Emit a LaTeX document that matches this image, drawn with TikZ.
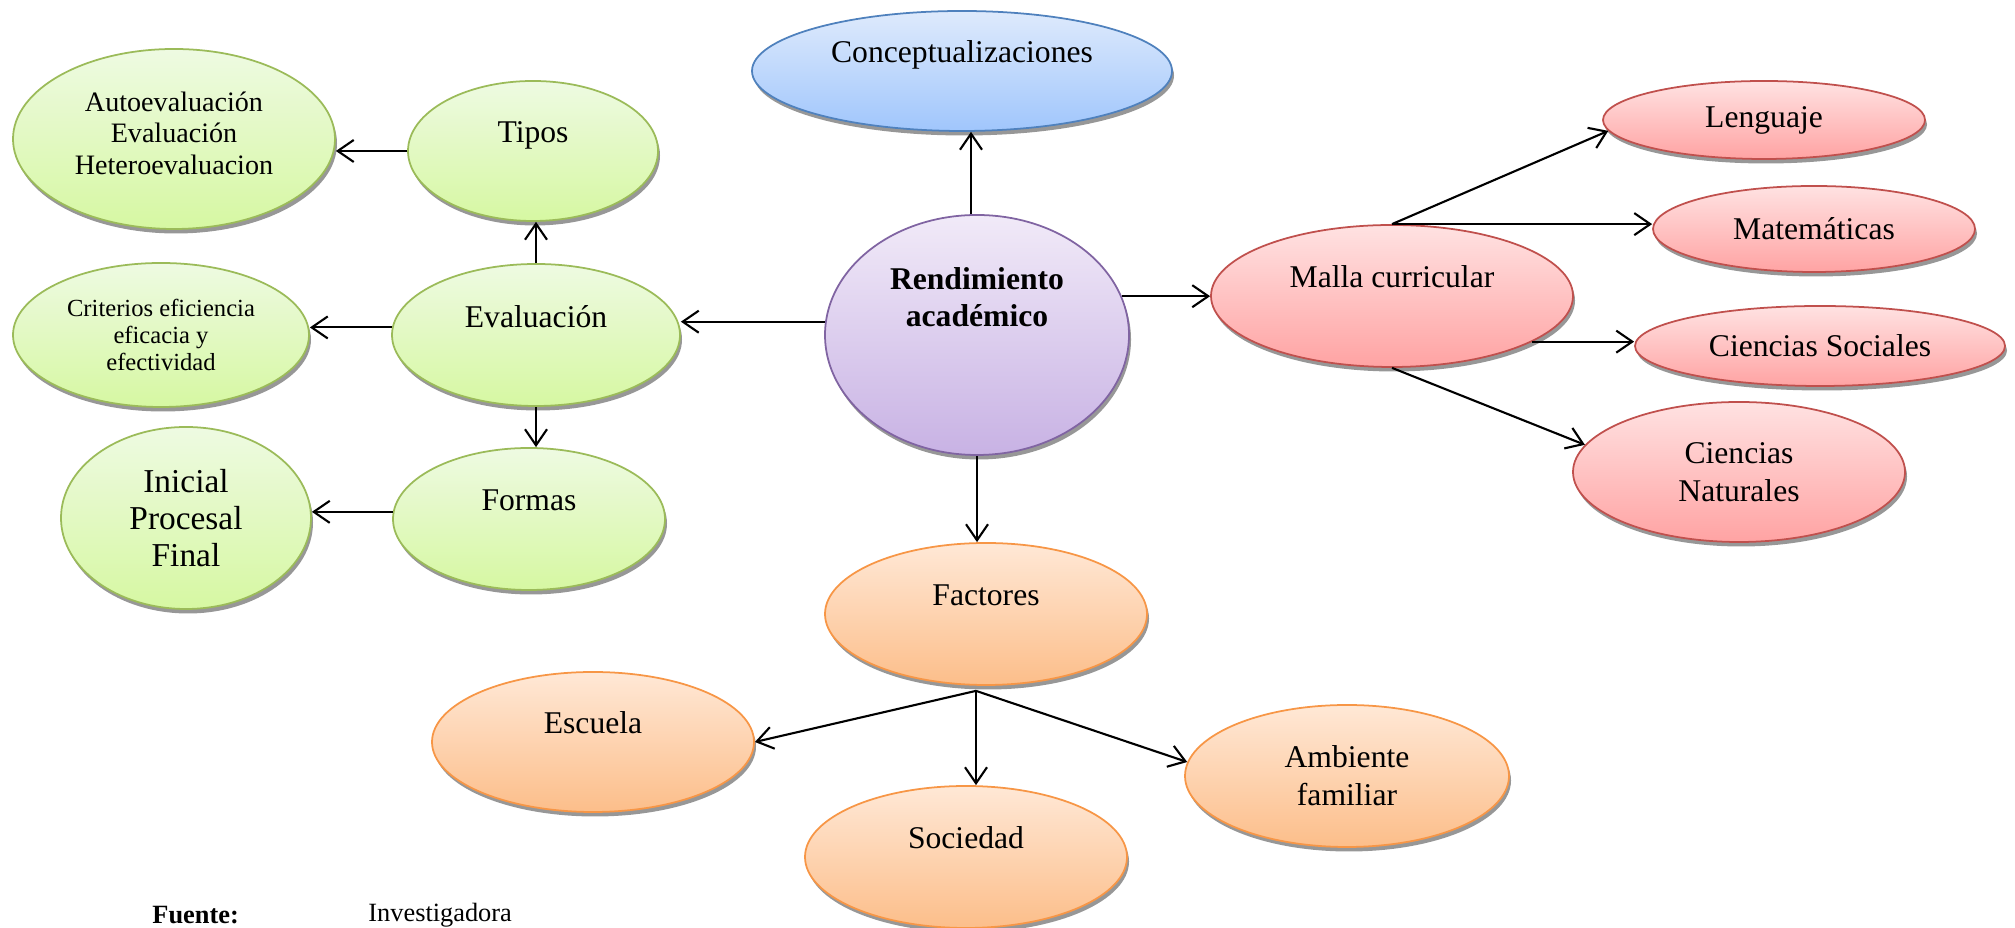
\documentclass[tikz,border=0pt]{standalone}
\usepackage{fontspec}
\setmainfont{Liberation Serif}
\usetikzlibrary{shapes.geometric,shadows,arrows.meta}

\definecolor{greenLine}{RGB}{155,187,89}
\definecolor{greenTop}{RGB}{238,250,226}
\definecolor{greenBot}{RGB}{214,248,162}
\definecolor{blueLine}{RGB}{79,129,189}
\definecolor{blueTop}{RGB}{222,234,252}
\definecolor{blueBot}{RGB}{160,198,252}
\definecolor{purpleLine}{RGB}{128,100,162}
\definecolor{purpleTop}{RGB}{241,234,248}
\definecolor{purpleBot}{RGB}{200,178,228}
\definecolor{redLine}{RGB}{192,80,77}
\definecolor{redTop}{RGB}{255,226,226}
\definecolor{redBot}{RGB}{255,163,163}
\definecolor{orangeLine}{RGB}{247,150,70}
\definecolor{orangeTop}{RGB}{255,232,214}
\definecolor{orangeBot}{RGB}{252,190,138}

\tikzset{
  bubble/.style={ellipse, draw, line width=0.5pt, inner sep=0pt, align=center,
    font=\fontsize{9}{10.8}\selectfont,
    drop shadow={shadow xshift=0.02cm, shadow yshift=-0.045cm, fill=black!45, opacity=0.9}},
  evalbub/.style={bubble, draw=greenLine, top color=greenTop, bottom color=greenBot},
  concbub/.style={bubble, draw=blueLine, top color=blueTop, bottom color=blueBot},
  rendbub/.style={bubble, draw=purpleLine, top color=purpleTop, bottom color=purpleBot,
    font=\fontsize{9}{10.8}\selectfont\bfseries},
  mallabub/.style={bubble, draw=redLine, top color=redTop, bottom color=redBot},
  factbub/.style={bubble, draw=orangeLine, top color=orangeTop, bottom color=orangeBot},
  link/.style={-{Straight Barb[length=1.6mm,width=2.2mm]}, line width=0.6pt}
}

\begin{document}
\begin{tikzpicture}
  \useasboundingbox (0,0) rectangle (20.15,-9.28);

  %% Centre
  \node[rendbub, minimum width=3.04cm, minimum height=2.40cm] (rend) at (9.77,-3.35)
    {Rendimiento\\académico\\ \mbox{}\\ \mbox{}};
  \node[concbub, minimum width=4.20cm, minimum height=1.20cm] (concep) at (9.62,-0.71)
    {Conceptualizaciones\\ \mbox{}};

  %% Evaluation branch
  \node[evalbub, minimum width=2.88cm, minimum height=1.42cm] (eval) at (5.36,-3.35) {Evaluación\\ \mbox{}};
  \node[evalbub, minimum width=2.50cm, minimum height=1.40cm] (tipos) at (5.33,-1.51) {Tipos\\ \mbox{}};
  \node[evalbub, minimum width=2.72cm, minimum height=1.42cm] (formas) at (5.29,-5.19) {Formas\\ \mbox{}};
  \node[evalbub, minimum width=3.22cm, minimum height=1.80cm, font=\fontsize{8}{9}\selectfont] (auto) at (1.74,-1.39)
    {Autoevaluación\\Evaluación\\Heteroevaluacion\\[-5.6pt] \mbox{}};
  \node[evalbub, minimum width=2.96cm, minimum height=1.44cm, font=\fontsize{7}{7.8}\selectfont] (crit) at (1.61,-3.35)
    {Criterios eficiencia\\eficacia y\\efectividad};
  \node[evalbub, minimum width=2.50cm, minimum height=1.82cm, font=\fontsize{9.5}{10.6}\selectfont] (inicial) at (1.86,-5.18)
    {Inicial\\Procesal\\Final};

  %% Curriculum branch
  \node[mallabub, minimum width=3.62cm, minimum height=1.42cm] (malla) at (13.92,-2.96) {Malla curricular\\ \mbox{}};
  \node[mallabub, minimum width=3.22cm, minimum height=0.78cm] (leng) at (17.64,-1.20) {Lenguaje};
  \node[mallabub, minimum width=3.22cm, minimum height=0.86cm] (mat) at (18.14,-2.29) {Matemáticas};
  \node[mallabub, minimum width=3.70cm, minimum height=0.80cm] (csoc) at (18.20,-3.46) {Ciencias Sociales};
  \node[mallabub, minimum width=3.32cm, minimum height=1.40cm] (cnat) at (17.39,-4.72) {Ciencias\\Naturales};

  %% Factors branch
  \node[factbub, minimum width=3.22cm, minimum height=1.42cm] (fact) at (9.86,-6.14) {Factores\\ \mbox{}};
  \node[factbub, minimum width=3.22cm, minimum height=1.40cm] (esc) at (5.93,-7.42) {Escuela\\ \mbox{}};
  \node[factbub, minimum width=3.22cm, minimum height=1.42cm] (soc) at (9.66,-8.57) {Sociedad\\ \mbox{}};
  \node[factbub, minimum width=3.24cm, minimum height=1.42cm] (amb) at (13.47,-7.76) {Ambiente\\familiar};

  %% Fan points
  \coordinate (mfan) at (malla.north);
  \coordinate (ffan) at ([xshift=-0.1cm,yshift=-0.05cm]fact.south);

  %% Arrows from the centre
  \draw[link] ([xshift=-0.06cm]rend.north) -- ([xshift=-0.06cm]rend.north |- concep.south);
  \draw[link] (rend.175) -- (rend.175 -| eval.east);
  \draw[link] (rend.15) -- (rend.15 -| malla.west);
  \draw[link] (rend.south) -- (rend.south |- fact.north);

  %% Arrows of the evaluation branch
  \draw[link] (eval.north) -- (eval.north |- tipos.south);
  \draw[link] (eval.177) -- (eval.177 -| crit.east);
  \draw[link] (eval.south) -- (eval.south |- formas.north);
  \draw[link] (tipos.west) -- (tipos.west -| auto.east);
  \draw[link] (formas.177) -- (formas.177 -| inicial.east);

  %% Arrows of the curriculum branch
  \draw[link] (mfan) -- (leng.184);
  \draw[link] (mfan) -- (mfan -| mat.west);
  \draw[link] (malla.-18) -- (malla.-18 -| csoc.west);
  \draw[link] (malla.south) -- (cnat.170);

  %% Arrows of the factors branch
  \draw[link] (ffan) -- (esc.east);
  \draw[link] (ffan) -- (ffan |- soc.north);
  \draw[link] (ffan) -- (amb.175);

  %% Source
  \node[anchor=west, font=\fontsize{7.5}{9}\selectfont\bfseries] (fuente) at (1.40,-9.15) {Fuente:};
  \node[anchor=west, font=\fontsize{7.5}{9}\selectfont] (autora) at (3.56,-9.15) {Investigadora};
\end{tikzpicture}
\end{document}
